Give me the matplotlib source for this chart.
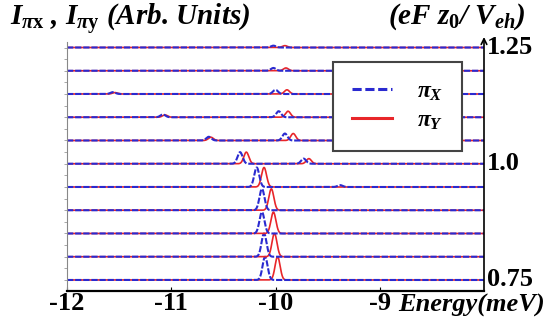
import numpy as np
import matplotlib
matplotlib.use("Agg")
import matplotlib.pyplot as plt
from matplotlib.lines import Line2D

plt.rcParams['mathtext.fontset'] = 'custom'
plt.rcParams['mathtext.rm'] = 'Liberation Serif:bold'
plt.rcParams['mathtext.it'] = 'Liberation Serif:italic:bold'
plt.rcParams['mathtext.bf'] = 'Liberation Serif:bold'

# field values (eF z0 / Veh), one trace each, bottom to top
fields = [0.75, 0.80, 0.85, 0.90, 0.95, 1.00, 1.05, 1.10, 1.15, 1.20, 1.25]

# main peaks (meV) and heights (arb. units)
px_pos = [-10.10, -10.11, -10.13, -10.13, -10.18, -10.34, -9.91, -9.97, -10.00, -10.02, -10.02]
py_pos = [-9.98, -10.01, -10.02, -10.04, -10.11, -10.28, -9.83, -9.88, -9.89, -9.90, -9.91]
peak_amp = [0.050, 0.050, 0.046, 0.046, 0.042, 0.025, 0.015, 0.013, 0.009, 0.006, 0.004]

# weak side peaks: (field, energy, height)
side_x = [(0.95, -9.38, 0.004), (1.00, -9.73, 0.011), (1.05, -10.64, 0.008),
          (1.10, -11.08, 0.006), (1.15, -11.56, 0.004)]
side_y = [(1.00, -9.68, 0.011), (1.05, -10.62, 0.007),
          (1.10, -11.06, 0.005), (1.15, -11.54, 0.003)]

width = 0.024  # line width of each peak (meV)

energy = np.linspace(-12, -8, 4001)


def spectrum(f, pos, amp, sides):
    s = amp * np.exp(-0.5 * ((energy - pos) / width) ** 2)
    for sf, se, sa in sides:
        if sf == f:
            s = s + sa * np.exp(-0.5 * ((energy - se) / width) ** 2)
    return f + s


fig = plt.figure(figsize=(5.45, 3.25), dpi=100)
ax = fig.add_axes([67 / 545, 34 / 325, 417 / 545, 254 / 325])

red = '#e8262a'
blue = '#2a2ad0'
for i, f in enumerate(fields):
    ax.plot(energy, spectrum(f, py_pos[i], peak_amp[i], side_y), color=red, lw=1.2)
    ax.plot(energy, spectrum(f, px_pos[i], peak_amp[i], side_x), color=blue, lw=1.5,
            dashes=(3, 0.9))

ax.set_xlim(-12, -8)
ax.set_ylim(0.7263, 1.2726)

serif = 'Liberation Serif'
ax.spines['top'].set_visible(False)
ax.spines['right'].set_visible(False)
ax.spines['left'].set_color('#888888')
ax.spines['left'].set_linewidth(0.8)
ax.spines['left'].set_bounds(0.7263, 1.262)
ax.spines['bottom'].set_linewidth(1.6)

ax.set_xticks([-12, -11, -10, -9])
ax.set_xticklabels(['-12', '-11', '-10', '-9'], fontfamily=serif,
                   fontweight='bold', fontsize=19)
ax.tick_params(axis='x', direction='in', length=3, width=0.8, pad=1)
ax.set_yticks(np.arange(0.75, 1.26, 0.025))
ax.tick_params(axis='y', direction='out', length=2.5, width=0.6,
               color='#999999', labelleft=False)

# right axis with arrow
ax.annotate('', xy=(1, 1.0), xytext=(1, 0), xycoords='axes fraction',
            arrowprops=dict(arrowstyle='->', lw=1.2, color='black',
                            shrinkA=0, shrinkB=0))
for v, lab in [(0.75, '0.75'), (1.0, '1.0'), (1.25, '1.25')]:
    ax.text(1.008, v, lab, transform=ax.get_yaxis_transform(), ha='left',
            va='center', fontfamily=serif, fontweight='bold', fontsize=19)

fig.text(398 / 545, 1 - 305 / 325, 'Energy(meV)', fontfamily=serif, fontweight='bold',
         fontstyle='italic', fontsize=19, va='center', ha='left')
fig.text(10 / 545, 1 - 19 / 325, r'$I_{\pi\mathrm{x}}$ , $I_{\pi\mathrm{y}}$ (Arb. Units)',
         fontfamily=serif, fontweight='bold', fontstyle='italic', fontsize=21,
         va='center', ha='left')
fig.text(388 / 545, 1 - 17 / 325, r'(eF $z_0$/ $V_{eh}$)',
         fontfamily=serif, fontweight='bold', fontstyle='italic', fontsize=21,
         va='center', ha='left')

handles = [Line2D([], [], color=blue, lw=2.2, dashes=(3, 1.2)),
           Line2D([], [], color=red, lw=2.2)]
leg = fig.legend(handles, [r'$\pi_X$', r'$\pi_Y$'], loc='upper left',
                 bbox_to_anchor=(333 / 545, 1 - 62 / 325), borderaxespad=0,
                 fancybox=False, framealpha=1, edgecolor='#444444',
                 prop={'family': serif, 'size': 17}, handlelength=1.7,
                 borderpad=0.8, labelspacing=0.3, handletextpad=1.05)
leg.get_frame().set_linewidth(1.5)

fig.savefig('out.png', dpi=100)
